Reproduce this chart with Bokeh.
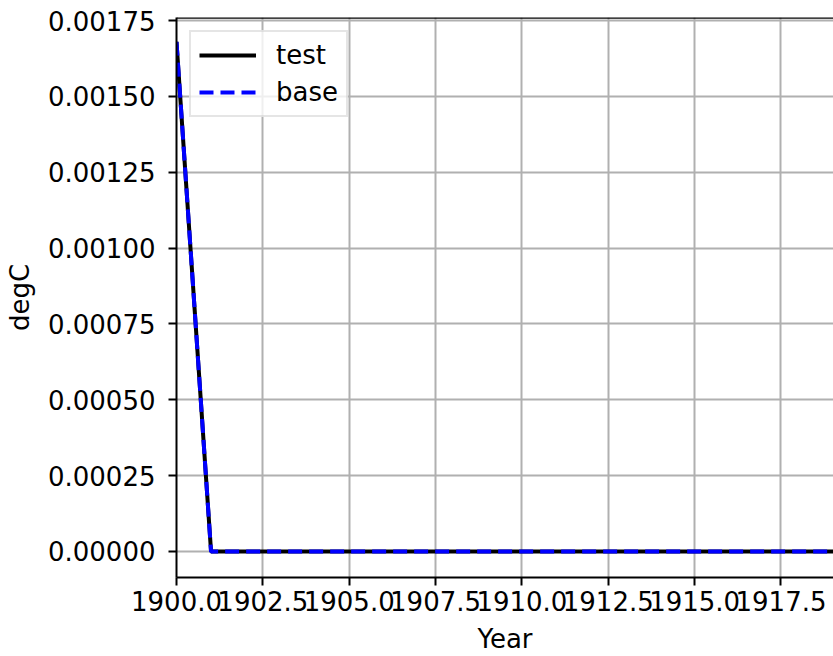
from bokeh.plotting import figure
from bokeh.models import Range1d, FixedTicker, PrintfTickFormatter, Legend, LegendItem, Span
from bokeh.embed import file_html
from bokeh.resources import INLINE

# Data
years = [1900, 1901, 1902, 1903, 1904, 1905, 1906, 1907, 1908, 1909, 1910,
         1911, 1912, 1913, 1914, 1915, 1916, 1917, 1918, 1919, 1920]
test_vals = [0.00168] + [0.0] * 20
base_vals = [0.00168] + [0.0] * 20
x_ticks = [1900.0, 1902.5, 1905.0, 1907.5, 1910.0, 1912.5, 1915.0, 1917.5]
y_ticks = [0.0, 0.00025, 0.0005, 0.00075, 0.001, 0.00125, 0.0015, 0.00175]

FONT = "DejaVu Sans"
FS = "26px"

p = figure(width=833, height=656, output_backend="svg", toolbar_location=None,
           x_range=Range1d(1900.0, 1919.02), y_range=Range1d(-0.0000857, 0.00176),
           min_border_left=176, min_border_right=0, min_border_top=17, min_border_bottom=79)
p.outline_line_color = None
p.background_fill_color = "white"
p.border_fill_color = "white"

r_test = p.line(years, test_vals, line_color="black", line_width=4)
r_base = p.line(years, base_vals, line_color="blue", line_width=4, line_dash="14 7")

for ax in (p.xaxis[0], p.yaxis[0]):
    ax.axis_line_color = "black"
    ax.axis_line_width = 2
    ax.major_tick_line_color = "black"
    ax.major_tick_line_width = 2
    ax.major_tick_out = 8
    ax.major_tick_in = 0
    ax.minor_tick_line_color = None
    ax.major_label_text_font = FONT
    ax.major_label_text_font_size = FS
    ax.major_label_text_color = "black"
    ax.axis_label_text_font = FONT
    ax.axis_label_text_font_size = FS
    ax.axis_label_text_font_style = "normal"
    ax.axis_label_text_color = "black"

p.xaxis.ticker = FixedTicker(ticks=x_ticks)
p.xaxis.formatter = PrintfTickFormatter(format="%.1f")
p.xaxis.axis_label = "Year"
p.xaxis.major_label_standoff = 5
p.xaxis.axis_label_standoff = 10

p.yaxis.ticker = FixedTicker(ticks=y_ticks)
p.yaxis.formatter = PrintfTickFormatter(format="%.5f")
p.yaxis.axis_label = "degC"
p.yaxis.major_label_standoff = 13
p.yaxis.axis_label_standoff = 10

p.grid.grid_line_color = "#b0b0b0"
p.grid.grid_line_width = 2
p.xgrid.ticker = FixedTicker(ticks=x_ticks)
p.ygrid.ticker = FixedTicker(ticks=y_ticks)

top_spine = Span(location=0.00176, dimension="width", line_color="black", line_width=2.5)
p.add_layout(top_spine)

legend = Legend(items=[LegendItem(label="test", renderers=[r_test]),
                       LegendItem(label="base", renderers=[r_base])],
                location="top_left", margin=13, padding=8, spacing=7,
                glyph_width=57, glyph_height=26, label_height=26, label_standoff=20,
                label_text_font=FONT, label_text_font_size=FS, label_text_color="black",
                border_line_color="#cccccc", border_line_width=2,
                background_fill_color="white", background_fill_alpha=0.8)
p.add_layout(legend)

open("out.html", "w").write(file_html(p, INLINE))
